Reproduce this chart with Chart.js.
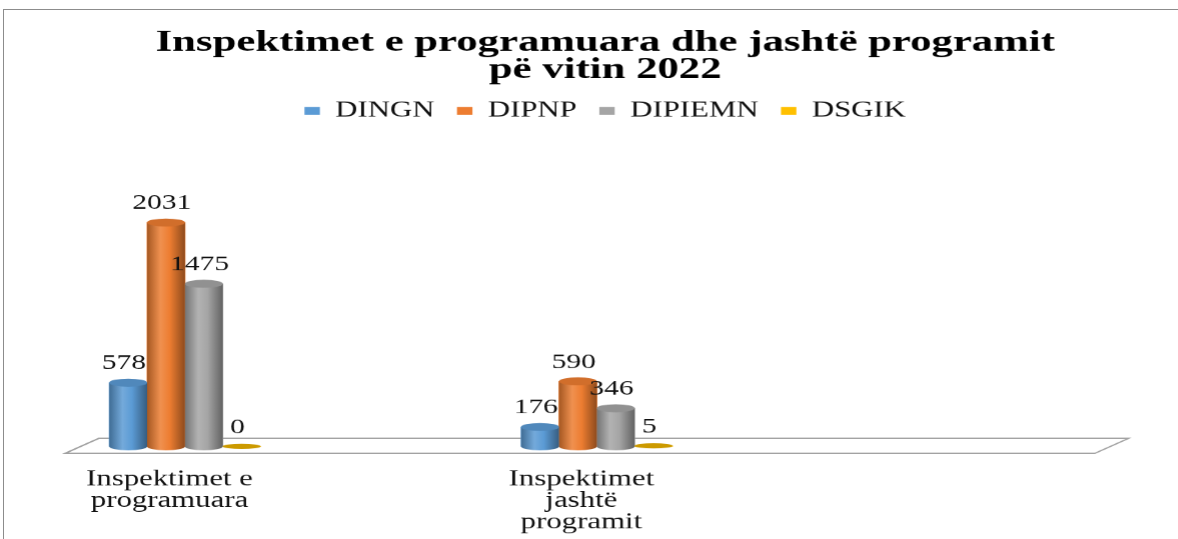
<!DOCTYPE html>
<html>
<head>
<meta charset="utf-8">
<script src="https://cdn.jsdelivr.net/npm/chart.js@4"></script>
<style>
  html, body { margin: 0; padding: 0; background: #fff; overflow: hidden; }
  #frame { position: absolute; left: 3px; top: 9px; right: 0; bottom: 0; border-top: 1.5px solid #8c8c8c; border-left: 1.5px solid #8c8c8c; }
  /* the picture is stretched sideways, so draw narrow and scale */
  #wrap { position: absolute; left: 0; top: 0; width: 842px; height: 539px; transform: scaleX(1.4); transform-origin: 0 0; }
</style>
</head>
<body>
<div id="frame"></div>
<div id="wrap"><canvas id="chart"></canvas></div>
<script>
const categories = [['Inspektimet e', 'programuara'], ['Inspektimet', 'jashtë', 'programit'], '']
const seriesNames = ['DINGN', 'DIPNP', 'DIPIEMN', 'DSGIK']
const dingn = [578, 176]
const dipnp = [2031, 590]
const dipiemn = [1475, 346]
const dsgik = [0, 5]

const colors = ['#5b9bd5', '#ed7d31', '#a5a5a5', '#ffc000']
const FONT = "'Liberation Serif', 'Times New Roman', serif"

function shade(hex, f) {
  const n = parseInt(hex.slice(1), 16)
  let r = n >> 16, g = (n >> 8) & 255, b = n & 255
  const t = f < 0 ? 0 : 255, p = Math.abs(f)
  r = Math.round(r + (t - r) * p); g = Math.round(g + (t - g) * p); b = Math.round(b + (t - b) * p)
  return 'rgb(' + r + ',' + g + ',' + b + ')'
}

const floorAndCylinders = {
  id: 'floorAndCylinders',
  beforeDatasetsDraw(chart) {
    const ctx = chart.ctx
    const xs = chart.scales.x, ys = chart.scales.y
    const base = ys.getPixelForValue(0)
    const xl = xs.getPixelForValue(-0.25), xr = xs.getPixelForValue(2.25)
    ctx.save()
    ctx.beginPath()
    ctx.moveTo(xl + 12, base - 8)
    ctx.lineTo(xr + 12, base - 8)
    ctx.lineTo(xr - 12, base + 7)
    ctx.lineTo(xl - 12, base + 7)
    ctx.closePath()
    ctx.fillStyle = '#fff'
    ctx.fill()
    ctx.strokeStyle = '#a0a0a0'
    ctx.lineWidth = 1.3
    ctx.stroke()
    ctx.restore()
  },
  afterDatasetsDraw(chart) {
    const ctx = chart.ctx
    chart.data.datasets.forEach((ds, i) => {
      const meta = chart.getDatasetMeta(i)
      const c = colors[i]
      meta.data.forEach((bar, j) => {
        const { x, y, base, width } = bar.getProps(['x', 'y', 'base', 'width'], true)
        const rx = width / 2, ry = 4
        ctx.save()
        if (base - y > 1) {
          const g = ctx.createLinearGradient(x - rx, 0, x + rx, 0)
          g.addColorStop(0, shade(c, -0.3))
          g.addColorStop(0.35, shade(c, 0.15))
          g.addColorStop(0.6, c)
          g.addColorStop(1, shade(c, -0.4))
          ctx.fillStyle = g
          ctx.beginPath()
          ctx.moveTo(x - rx, y)
          ctx.lineTo(x - rx, base)
          ctx.ellipse(x, base, rx, ry, 0, Math.PI, 0, true)
          ctx.lineTo(x + rx, y)
          ctx.closePath()
          ctx.fill()
          ctx.fillStyle = shade(c, -0.12)
          ctx.beginPath()
          ctx.ellipse(x, y, rx, ry, 0, 0, Math.PI * 2)
          ctx.fill()
        } else {
          ctx.fillStyle = shade(c, -0.2)
          ctx.beginPath()
          ctx.ellipse(x, y, rx, 2.6, 0, 0, Math.PI * 2)
          ctx.fill()
        }
        // value label
        ctx.fillStyle = '#111'
        ctx.font = '21px ' + FONT
        ctx.textAlign = 'center'
        ctx.textBaseline = 'alphabetic'
        ctx.fillText(String(ds.data[j]), x - 3, y - 13.5)
        ctx.restore()
      })
    })
  }
}

const allSeries = [dingn, dipnp, dipiemn, dsgik]

new Chart(document.getElementById('chart'), {
  type: 'bar',
  data: {
    labels: categories,
    datasets: seriesNames.map((name, i) => ({
      label: name,
      data: allSeries[i],
      backgroundColor: colors[i],
      borderWidth: 0,
      barThickness: 27,
      clip: false
    }))
  },
  options: {
    responsive: true,
    maintainAspectRatio: false,
    devicePixelRatio: 1.4,
    animation: false,
    layout: { padding: { left: 32, right: 10, top: 0, bottom: 0 } },
    plugins: {
      title: {
        display: true,
        text: ['Inspektimet e programuara dhe jashtë programit', 'pë vitin 2022'],
        color: '#000',
        font: { family: FONT, size: 30.5, weight: 'bold', lineHeight: 0.9 },
        padding: { top: 29, bottom: 0 }
      },
      legend: {
        position: 'top',
        labels: {
          color: '#111',
          font: { family: FONT, size: 22 },
          boxWidth: 11,
          boxHeight: 8,
          padding: 16
        }
      },
      tooltip: { enabled: false }
    },
    scales: {
      x: {
        offset: false,
        grid: { display: false, drawTicks: false },
        border: { display: false },
        afterFit: axis => {
          axis.paddingLeft = 132
          axis.paddingRight = 122
          axis.height = 93
        },
        ticks: {
          autoSkip: false,
          maxRotation: 0,
          color: '#111',
          font: { family: FONT, size: 22, lineHeight: 0.96 },
          padding: 23,
          labelOffset: -11
        }
      },
      y: {
        display: false,
        min: 0,
        max: 2852
      }
    }
  },
  plugins: [floorAndCylinders]
})
</script>
</body>
</html>
